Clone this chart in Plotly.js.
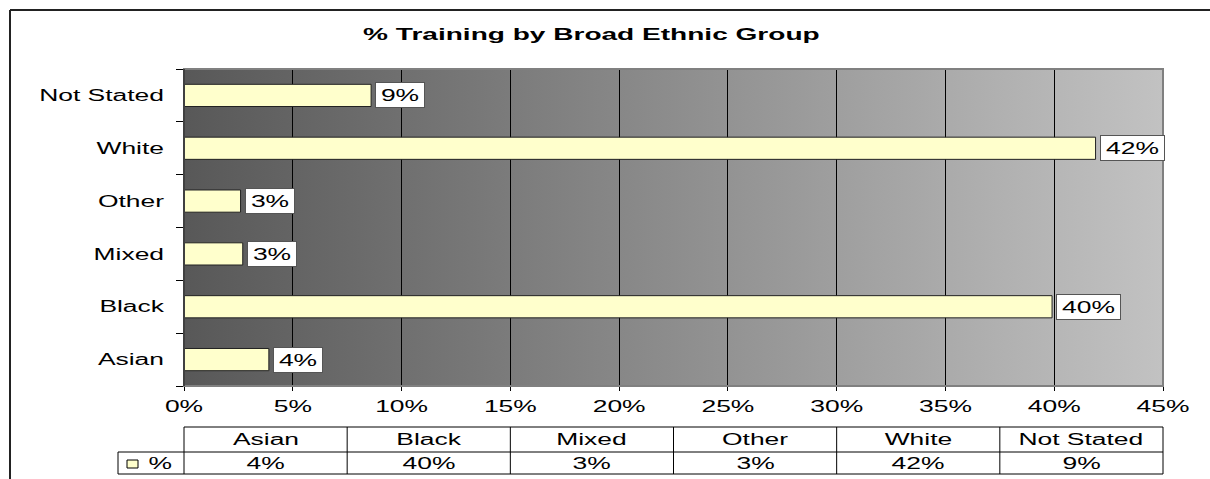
<!DOCTYPE html>
<html>
<head>
<meta charset="utf-8">
<script src="https://cdn.plot.ly/plotly-3.0.1.min.js"></script>
<style>html,body{margin:0;padding:0;background:#fff;}#chart{width:1210px;height:479px;}</style>
</head>
<body>
<div id="chart"></div>
<script>
// ---- data ----
const categories = ["Asian", "Black", "Mixed", "Other", "White", "Not Stated"];
const values = [0.039, 0.399, 0.027, 0.026, 0.419, 0.086];
const seriesName = "%";
const xTickVals = [0, 0.05, 0.10, 0.15, 0.20, 0.25, 0.30, 0.35, 0.40, 0.45];
const chartTitle = "% Training by Broad Ethnic Group";

// ---- layout geometry (style) ----
const W = 1210, H = 479;
const M = {l: 184, r: 47, t: 69, b: 93};
const plotW = W - M.l - M.r, plotH = H - M.t - M.b;
const px = x => (x - M.l) / plotW;           // pixel -> paper x
const py = y => (H - M.b - y) / plotH;       // pixel -> paper y
const FONT = "Liberation Sans, Arial, sans-serif";
const FS = 16;
const STRETCH = 1.65;   // reference text is horizontally widened
const fmt = v => Math.round(v * 100) + "%";
// approximate stretched width of a percentage label (Arial metrics)
const labelWidth = s => {
  let em = 0;
  for (const ch of s) em += (ch === "%" ? 0.889 : 0.556);
  return Math.round(em * FS * STRETCH) + 2;
};

const svg = '<svg xmlns="http://www.w3.org/2000/svg" width="100" height="100" preserveAspectRatio="none">' +
  '<defs><linearGradient id="g" x1="0" y1="0" x2="1" y2="0">' +
  '<stop offset="0" stop-color="#585858"/><stop offset="1" stop-color="#c2c2c2"/></linearGradient></defs>' +
  '<rect width="100" height="100" fill="url(#g)"/></svg>';
const bgSrc = 'data:image/svg+xml;charset=utf-8,' + encodeURIComponent(svg);

const trace = {
  type: "bar",
  orientation: "h",
  y: categories,
  x: values,
  name: seriesName,
  width: 0.42,
  marker: {color: "#FFFFCC", line: {color: "#222", width: 1}},
  hoverinfo: "skip"
};

const annotations = [];
// value labels
categories.forEach((c, i) => {
  const txt = fmt(values[i]);
  annotations.push({
    x: values[i], y: c, xref: "x", yref: "y",
    text: txt, showarrow: false,
    xanchor: "left", yanchor: "middle", xshift: 4,
    width: labelWidth(txt), height: 16, align: "center",
    font: {family: FONT, size: FS, color: "#000"},
    bgcolor: "#ffffff", bordercolor: "#555", borderwidth: 1, borderpad: 4
  });
});
// title
annotations.push({
  x: px(591), y: py(34), xref: "paper", yref: "paper",
  text: "<b>" + chartTitle + "</b>", showarrow: false,
  xanchor: "center", yanchor: "middle",
  font: {family: FONT, size: 17, color: "#000"}
});

// data table
const shapes = [];
const n = categories.length;
const tTop = 427, tMid = 452, tBot = 474, legL = 118;
const lineStyle = {color: "#000", width: 1};
shapes.push({type: "line", xref: "paper", yref: "paper", x0: 0, x1: 1, y0: py(tTop), y1: py(tTop), line: lineStyle});
shapes.push({type: "line", xref: "paper", yref: "paper", x0: px(legL), x1: 1, y0: py(tMid), y1: py(tMid), line: lineStyle});
shapes.push({type: "line", xref: "paper", yref: "paper", x0: px(legL), x1: 1, y0: py(tBot), y1: py(tBot), line: lineStyle});
shapes.push({type: "line", xref: "paper", yref: "paper", x0: px(legL), x1: px(legL), y0: py(tMid), y1: py(tBot), line: lineStyle});
for (let i = 0; i <= n; i++) {
  shapes.push({type: "line", xref: "paper", yref: "paper", x0: i / n, x1: i / n, y0: py(tTop), y1: py(tBot), line: lineStyle});
}
categories.forEach((c, i) => {
  annotations.push({x: (i + 0.5) / n, y: py((tTop + tMid) / 2), xref: "paper", yref: "paper",
    text: c, showarrow: false, xanchor: "center", yanchor: "middle",
    font: {family: FONT, size: FS, color: "#000"}});
  annotations.push({x: (i + 0.5) / n, y: py((tMid + tBot) / 2), xref: "paper", yref: "paper",
    text: fmt(values[i]), showarrow: false, xanchor: "center", yanchor: "middle",
    font: {family: FONT, size: FS, color: "#000"}});
});
// legend key
shapes.push({type: "rect", xref: "paper", yref: "paper", x0: px(127), x1: px(138), y0: py(468), y1: py(460),
  fillcolor: "#FFFFCC", line: {color: "#000", width: 1}});
annotations.push({x: px(160), y: py(463), xref: "paper", yref: "paper", text: seriesName, showarrow: false,
  xanchor: "center", yanchor: "middle", font: {family: FONT, size: FS, color: "#000"}});
// plot area border (gray)
shapes.push({type: "rect", xref: "paper", yref: "paper", x0: 0, x1: 1, y0: 0, y1: 1,
  line: {color: "#808080", width: 2}, layer: "above"});
// black left axis line
shapes.push({type: "line", xref: "paper", yref: "paper", x0: 0, x1: 0, y0: 0, y1: 1,
  line: {color: "#000", width: 1}, layer: "above"});
// outer chart border (continues off the right and bottom edges)
shapes.push({type: "line", xref: "paper", yref: "paper", x0: px(10), x1: px(1260), y0: py(10), y1: py(10),
  line: {color: "#222", width: 2}});
shapes.push({type: "line", xref: "paper", yref: "paper", x0: px(10), x1: px(10), y0: py(10), y1: py(520),
  line: {color: "#222", width: 2}});

const layout = {
  width: W, height: H,
  margin: M,
  paper_bgcolor: "#ffffff",
  plot_bgcolor: "rgba(0,0,0,0)",
  showlegend: false,
  font: {family: FONT, size: FS, color: "#000"},
  xaxis: {
    range: [0, 0.45], tickvals: xTickVals, tickformat: ".0%",
    showgrid: true, gridcolor: "#000", gridwidth: 1,
    zeroline: false, showline: false,
    ticks: "outside", ticklen: 4, tickcolor: "#000",
    ticklabelstandoff: 2,
    tickfont: {family: FONT, size: FS, color: "#000"},
    fixedrange: true
  },
  yaxis: {
    type: "category", categoryorder: "array", categoryarray: categories,
    showgrid: false, zeroline: false, showline: false,
    ticks: "outside", ticklen: 7, tickcolor: "#000", tickson: "boundaries",
    ticklabelstandoff: 19,
    tickfont: {family: FONT, size: FS, color: "#000"},
    fixedrange: true
  },
  images: [{source: bgSrc, xref: "paper", yref: "paper", x: 0, y: 1, sizex: 1, sizey: 1,
    sizing: "stretch", layer: "below", xanchor: "left", yanchor: "top"}],
  annotations: annotations,
  shapes: shapes
};

Plotly.newPlot("chart", [trace], layout, {staticPlot: true, displayModeBar: false}).then(gd => {
  // widen glyphs horizontally, like the reference rendering
  gd.querySelectorAll("svg.main-svg text").forEach(t => {
    if (!t.textContent.trim()) return;
    const len = t.getComputedTextLength();
    if (len > 0) {
      t.setAttribute("textLength", (len * STRETCH).toFixed(1));
      t.setAttribute("lengthAdjust", "spacingAndGlyphs");
    }
  });
});
</script>
</body>
</html>
